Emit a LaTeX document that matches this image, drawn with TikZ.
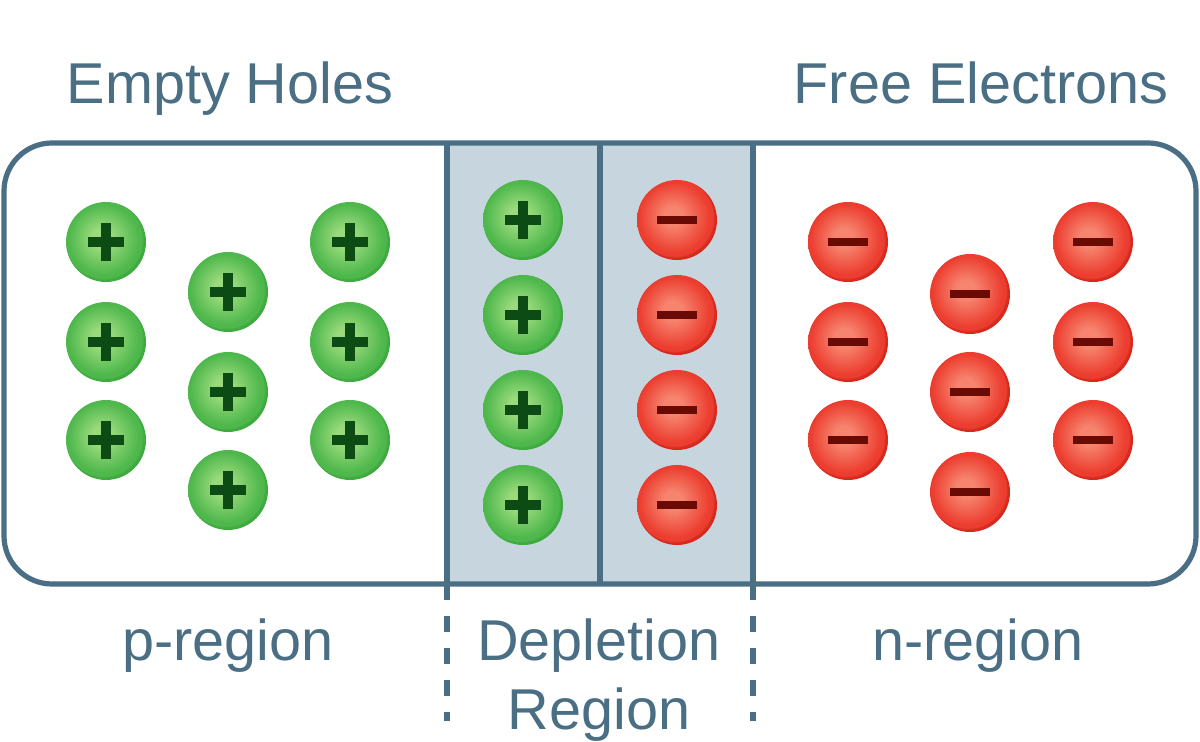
\documentclass[tikz,border=0pt]{standalone}
\usepackage{fontspec}
\setmainfont{Liberation Sans}
\definecolor{linec}{HTML}{4A6F84}
\definecolor{depl}{HTML}{C6D5DE}
\definecolor{gin}{HTML}{9ADA7C}
\definecolor{gout}{HTML}{4FB84C}
\definecolor{grim}{HTML}{3FAA40}
\definecolor{rin}{HTML}{F6846E}
\definecolor{rout}{HTML}{EC3E30}
\definecolor{rrim}{HTML}{D62A1E}
\definecolor{plusc}{HTML}{0D4B14}
\definecolor{minusc}{HTML}{6A0A04}
\pgfdeclareradialshading{gshade}{\pgfpoint{-3bp}{3bp}}{color(0bp)=(gin); color(6bp)=(gin); color(22bp)=(gout); color(24bp)=(gout); color(25bp)=(grim); color(50bp)=(grim)}
\pgfdeclareradialshading{rshade}{\pgfpoint{-3bp}{3bp}}{color(0bp)=(rin); color(6bp)=(rin); color(22bp)=(rout); color(24bp)=(rout); color(25bp)=(rrim); color(50bp)=(rrim)}
\tikzset{
  ballbase/.style={circle, minimum size=40pt, inner sep=0pt, outer sep=0pt},
  hole/.style={ballbase, shading=gshade, path picture={
      \fill[plusc] ([shift={(-9pt,-2.5pt)}]path picture bounding box.center) rectangle ([shift={(9pt,2.5pt)}]path picture bounding box.center);
      \fill[plusc] ([shift={(-2.3pt,-9.5pt)}]path picture bounding box.center) rectangle ([shift={(2.3pt,9.5pt)}]path picture bounding box.center);
  }},
  electron/.style={ballbase, shading=rshade, path picture={
      \fill[minusc] ([shift={(-10.2pt,-1.9pt)}]path picture bounding box.center) rectangle ([shift={(10.2pt,1.9pt)}]path picture bounding box.center);
  }},
  border/.style={draw=linec, line width=2.6pt},
  dashline/.style={draw=linec, line width=2.6pt, dash pattern=on 8pt off 8pt},
  lbl/.style={text=linec, font=\fontsize{28.8}{34.5}\selectfont, inner sep=0pt, anchor=base},
}
\begin{document}
\begin{tikzpicture}[x=0.5pt, y=-0.5pt]
\useasboundingbox (0,0) rectangle (1200,742);
% depletion region fill
\fill[depl] (447,143) rectangle (753,584);
% outer box
\draw[border, rounded corners=24pt] (4,143) rectangle (1196,584);
% dividers
\coordinate (dlt) at (447,143); \coordinate (dlb) at (447,584);
\coordinate (dmt) at (600,143); \coordinate (dmb) at (600,584);
\coordinate (drt) at (753,143); \coordinate (drb) at (753,584);
\coordinate (dle) at (447,721); \coordinate (dre) at (753,721);
\draw[border] (dlt) -- (dlb);
\draw[border] (dmt) -- (dmb);
\draw[border] (drt) -- (drb);
\draw[dashline] (dlb) -- (dle);
\draw[dashline] (drb) -- (dre);
% p-region holes
\node[hole] (h11) at (106,242) {};
\node[hole] (h12) at (106,342) {};
\node[hole] (h13) at (106,440) {};
\node[hole] (h21) at (228,292) {};
\node[hole] (h22) at (228,392) {};
\node[hole] (h23) at (228,490) {};
\node[hole] (h31) at (350,242) {};
\node[hole] (h32) at (350,342) {};
\node[hole] (h33) at (350,440) {};
% depletion
\node[hole] (dh1) at (523,220) {};
\node[hole] (dh2) at (523,315) {};
\node[hole] (dh3) at (523,410) {};
\node[hole] (dh4) at (523,505) {};
\node[electron] (de1) at (677,220) {};
\node[electron] (de2) at (677,315) {};
\node[electron] (de3) at (677,410) {};
\node[electron] (de4) at (677,505) {};
% n-region electrons
\node[electron] (e11) at (848,242) {};
\node[electron] (e12) at (848,342) {};
\node[electron] (e13) at (848,440) {};
\node[electron] (e21) at (970,294) {};
\node[electron] (e22) at (970,392) {};
\node[electron] (e23) at (970,492) {};
\node[electron] (e31) at (1093,242) {};
\node[electron] (e32) at (1093,342) {};
\node[electron] (e33) at (1093,440) {};
% labels
\node[lbl] (tl) at (230,104) {Empty Holes};
\node[lbl] (tr) at (981,104) {Free Electrons};
\node[lbl] (bl) at (228,661) {p-region};
\node[lbl] (br) at (978,661) {n-region};
\node[lbl, align=center] (bm) at (599,730) {Depletion\\Region};
\end{tikzpicture}
\end{document}
